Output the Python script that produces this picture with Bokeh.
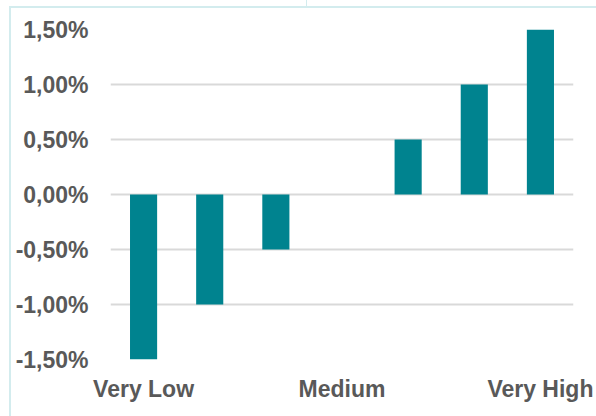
from bokeh.plotting import figure
from bokeh.models import FixedTicker, InlineStyleSheet
from bokeh.embed import file_html
from bokeh.resources import INLINE

# Risk buckets and the return difference of each (in %)
categories = ["Very Low", "", "", "Medium", "", "", "Very High"]
values = [-1.50, -1.00, -0.50, 0.00, 0.50, 1.00, 1.50]
y_ticks = [-1.5, -1.0, -0.5, 0.0, 0.5, 1.0, 1.5]
y_tick_labels = ["-1,50%", "-1,00%", "-0,50%", "0,00%", "0,50%", "1,00%", "1,50%"]

BAR = "#00838F"
GRID = "#D9D9D9"
TEXT = "#595959"
FRAME = "#D3ECEE"
FONT = "Liberation Sans"

positions = list(range(1, len(categories) + 1))

# Light chart-area outline along the top and left edges, drawn above the canvas
outline_css = InlineStyleSheet(css=f"""
:host {{ position: relative; }}
:host::after {{
  content: "";
  position: absolute;
  left: 9px; top: 6px; right: -20px; bottom: -20px;
  border-top: 2px solid {FRAME};
  border-left: 2px solid {FRAME};
  pointer-events: none;
}}
:host::before {{
  content: "";
  position: absolute;
  left: 306px; top: 0px; width: 0px; height: 7px;
  border-left: 1.5px solid {FRAME};
  z-index: 10;
  pointer-events: none;
}}
""")

p = figure(
    width=596, height=416,
    x_range=(0.5, len(categories) + 0.5),
    y_range=(-1.5, 1.5),
    output_backend="svg", toolbar_location=None,
    min_border_left=110, min_border_right=23,
    min_border_top=29, min_border_bottom=57,
    stylesheets=[outline_css],
)
p.outline_line_color = None
p.background_fill_color = "white"
p.border_fill_color = "white"

p.vbar(x=positions, top=values, bottom=0, width=0.41,
       fill_color=BAR, line_color=None)

# Axes
p.yaxis.ticker = FixedTicker(ticks=y_ticks)
p.yaxis.major_label_overrides = dict(zip(y_ticks, y_tick_labels))
p.xaxis.ticker = FixedTicker(ticks=positions)
p.xaxis.major_label_overrides = {pos: lab for pos, lab in zip(positions, categories)}

for ax in (p.xaxis[0], p.yaxis[0]):
    ax.axis_line_color = None
    ax.major_tick_line_color = None
    ax.minor_tick_line_color = None
    ax.major_label_text_font = FONT
    ax.major_label_text_font_style = "bold"
    ax.major_label_text_font_size = "23px"
    ax.major_label_text_color = TEXT
p.yaxis.major_label_standoff = 16
p.xaxis.major_label_standoff = 10

p.xgrid.grid_line_color = None
p.ygrid.grid_line_color = GRID
p.ygrid.grid_line_width = 2

open("out.html", "w").write(file_html(p, INLINE))
